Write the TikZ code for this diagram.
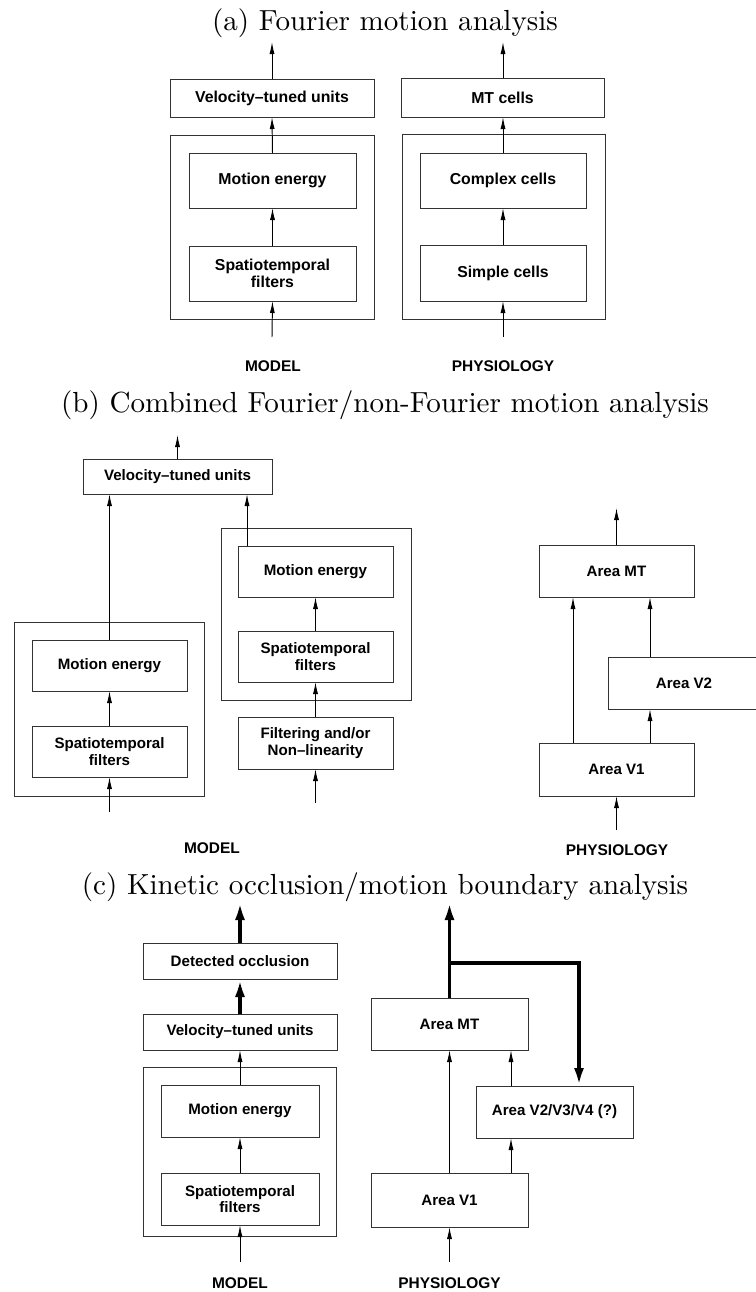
\documentclass[tikz,border=0pt]{standalone}
\usepackage{fontspec}
\setsansfont{Liberation Sans}
\newfontfamily\ttlfont{lmroman10-regular.otf}
\usetikzlibrary{arrows.meta}
\newcommand\bnode[7]{\node[#1, minimum width={(#5-#3)*0.02cm}, minimum height={(#6-#4)*0.02cm}] (#2) at ({(#3+#5)/2},{(#4+#6)/2}) {#7};}
\begin{document}
\begin{tikzpicture}[x=0.02cm,y=-0.02cm,
  box/.style={draw=black!80, line width=0.5pt, inner sep=0pt, outer sep=0pt, align=center},
  boxa/.style={box, font=\sffamily\bfseries\fontsize{9}{9.6}\selectfont},
  boxb/.style={box, font=\sffamily\bfseries\fontsize{8.6}{9.4}\selectfont},
  grp/.style={box},
  arr/.style={-{Latex[length=2.4mm,width=1mm]}, line width=0.55pt},
  thk/.style={-{Latex[length=3.6mm,width=2mm]}, line width=2.2pt},
  ttl/.style={font=\ttlfont\fontsize{16.55}{19}\selectfont, inner sep=0pt},
  lab/.style={font=\sffamily\bfseries\fontsize{8.8}{10}\selectfont, inner sep=0pt}]
\useasboundingbox (0,0) rectangle (755,1292);

% ---------------- (a)
\node[ttl] (ta) at (385,23) {(a) Fourier motion analysis};
\bnode{boxa}{velA}{170}{79}{374}{117}{Velocity–tuned units}
\bnode{grp}{grpA}{170}{135}{374}{319}{}
\bnode{boxa}{meA}{189}{153}{356}{208}{Motion energy}
\bnode{boxa}{stfA}{189}{246}{356}{301}{Spatiotemporal\\filters}
\coordinate (outA) at (272,42);
\coordinate (inA) at (272,337);
\draw[arr] (velA.north) -- (outA);
\draw[arr] (meA.north) -- (velA.south);
\draw[arr] (stfA.north) -- (meA.south);
\draw[arr] (inA) -- (stfA.south);
\node[lab] (modA) at (273,366) {MODEL};

\bnode{boxa}{mtA}{401}{78}{604}{117}{MT cells}
\bnode{grp}{grpA2}{402}{134}{605}{319}{}
\bnode{boxa}{cxA}{420}{153}{586}{208}{Complex cells}
\bnode{boxa}{smA}{420}{245}{586}{301}{Simple cells}
\coordinate (outA2) at (503,42);
\coordinate (inA2) at (503,337);
\draw[arr] (mtA.north -| cxA.north) -- (outA2);
\draw[arr] (cxA.north) -- (cxA.north |- mtA.south);
\draw[arr] (smA.north) -- (cxA.south);
\draw[arr] (inA2) -- (smA.south);
\node[lab] (phyA) at (503,366) {PHYSIOLOGY};

% ---------------- (b)
\node[ttl] (tb) at (385,405) {(b) Combined Fourier/non-Fourier motion analysis};
\bnode{boxb}{velB}{83}{459}{272}{494}{Velocity–tuned units}
\coordinate (outB) at (177.5,435);
\draw[arr] (velB.north) -- (outB);

\bnode{grp}{grpB1}{14}{622}{204}{796}{}
\bnode{boxb}{meB1}{32}{640}{187}{691}{Motion energy}
\bnode{boxb}{stfB1}{32}{726}{187}{777}{Spatiotemporal\\filters}
\coordinate (inB1) at (109.5,812);
\draw[arr] (meB1.north) -- (meB1.north |- velB.south);
\draw[arr] (stfB1.north) -- (meB1.south);
\draw[arr] (inB1) -- (stfB1.south);

\bnode{grp}{grpB2}{221}{528}{411}{700}{}
\bnode{boxb}{meB2}{238}{546}{393}{597}{Motion energy}
\bnode{boxb}{stfB2}{238}{631}{393}{682}{Spatiotemporal\\filters}
\bnode{boxb}{filB}{238}{717}{393}{769}{Filtering and/or\\Non–linearity}
\coordinate (xb) at (247,0);
\coordinate (inB2) at (315.5,803);
\draw[arr] (meB2.north -| xb) -- (velB.south -| xb);
\draw[arr] (stfB2.north) -- (meB2.south);
\draw[arr] (filB.north) -- (stfB2.south);
\draw[arr] (inB2) -- (filB.south);
\node[lab] (modB) at (212,848) {MODEL};

\bnode{boxb}{mtB}{539}{545}{694}{597}{Area MT}
\bnode{boxb}{v2B}{608}{657}{760}{709}{Area V2}
\bnode{boxb}{v1B}{539}{743}{694}{796}{Area V1}
\coordinate (outB3) at (616.5,508);
\coordinate (inB3) at (616.5,830);
\coordinate (xc) at (573,0);
\coordinate (xd) at (650,0);
\draw[arr] (mtB.north) -- (outB3);
\draw[arr] (v1B.north -| xc) -- (mtB.south -| xc);
\draw[arr] (v2B.north -| xd) -- (mtB.south -| xd);
\draw[arr] (v1B.north -| xd) -- (v2B.south -| xd);
\draw[arr] (inB3) -- (v1B.south);
\node[lab] (phyB) at (617,850) {PHYSIOLOGY};

% ---------------- (c)
\node[ttl] (tc) at (385,887) {(c) Kinetic occlusion/motion boundary analysis};
\bnode{boxb}{docC}{143}{943}{337}{979}{Detected occlusion}
\bnode{boxb}{velC}{143}{1014}{337}{1050}{Velocity–tuned units}
\bnode{grp}{grpC}{143}{1067}{336}{1236}{}
\bnode{boxb}{meC}{161}{1085}{319}{1137}{Motion energy}
\bnode{boxb}{stfC}{161}{1173}{319}{1225}{Spatiotemporal\\filters}
\coordinate (outC) at (240,902);
\coordinate (inC) at (240,1262);
\draw[thk] (docC.north) -- (outC);
\draw[thk] (velC.north) -- (docC.south);
\draw[arr] (meC.north) -- (velC.south);
\draw[arr] (stfC.north) -- (meC.south);
\draw[arr] (inC) -- (stfC.south);
\node[lab] (modC) at (240,1283) {MODEL};

\bnode{boxb}{mtC}{371}{998}{528}{1050}{Area MT}
\bnode{boxb}{v234}{476}{1086}{633}{1138}{Area V2/V3/V4 (?)}
\bnode{boxb}{v1C}{371}{1173}{528}{1227}{Area V1}
\coordinate (outC2) at (449.5,902);
\coordinate (brk) at (579,963);
\coordinate (xe) at (511,0);
\coordinate (inC2) at (449.5,1262);
\draw[thk] (mtC.north) -- (outC2);
\draw[thk, line join=miter] (mtC.north |- brk) -- (brk) -- (brk |- v234.north);
\draw[arr] (v1C.north) -- (mtC.south);
\draw[arr] (v234.north -| xe) -- (mtC.south -| xe);
\draw[arr] (v1C.north -| xe) -- (v234.south -| xe);
\draw[arr] (inC2) -- (v1C.south);
\node[lab] (phyC) at (449.5,1283) {PHYSIOLOGY};
\end{tikzpicture}
\end{document}
